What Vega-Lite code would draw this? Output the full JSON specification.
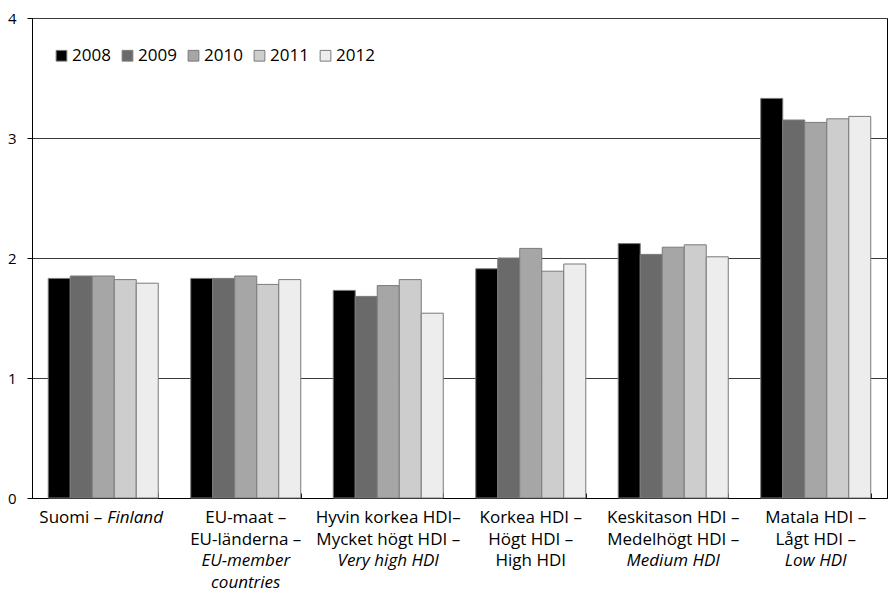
{
  "$schema": "https://vega.github.io/schema/vega-lite/v6.json",
  "autosize": {"type": "none"},
  "width": 855,
  "height": 480,
  "padding": {"left": 32, "top": 18, "right": 1, "bottom": 97},
  "background": "#ffffff",
  "config": {
    "font": "Open Sans",
    "view": {"stroke": "#000000", "strokeWidth": 1},
    "axis": {"labelFont": "Open Sans", "labelColor": "#000000"}
  },
  "datasets": {
    "bars": [
      {"group": "Suomi", "year": "2008", "value": 1.83},
      {"group": "Suomi", "year": "2009", "value": 1.85},
      {"group": "Suomi", "year": "2010", "value": 1.85},
      {"group": "Suomi", "year": "2011", "value": 1.82},
      {"group": "Suomi", "year": "2012", "value": 1.79},
      {"group": "EU", "year": "2008", "value": 1.83},
      {"group": "EU", "year": "2009", "value": 1.83},
      {"group": "EU", "year": "2010", "value": 1.85},
      {"group": "EU", "year": "2011", "value": 1.78},
      {"group": "EU", "year": "2012", "value": 1.82},
      {"group": "VeryHigh", "year": "2008", "value": 1.73},
      {"group": "VeryHigh", "year": "2009", "value": 1.68},
      {"group": "VeryHigh", "year": "2010", "value": 1.77},
      {"group": "VeryHigh", "year": "2011", "value": 1.82},
      {"group": "VeryHigh", "year": "2012", "value": 1.54},
      {"group": "High", "year": "2008", "value": 1.91},
      {"group": "High", "year": "2009", "value": 2.0},
      {"group": "High", "year": "2010", "value": 2.08},
      {"group": "High", "year": "2011", "value": 1.89},
      {"group": "High", "year": "2012", "value": 1.95},
      {"group": "Medium", "year": "2008", "value": 2.12},
      {"group": "Medium", "year": "2009", "value": 2.03},
      {"group": "Medium", "year": "2010", "value": 2.09},
      {"group": "Medium", "year": "2011", "value": 2.11},
      {"group": "Medium", "year": "2012", "value": 2.01},
      {"group": "Low", "year": "2008", "value": 3.33},
      {"group": "Low", "year": "2009", "value": 3.15},
      {"group": "Low", "year": "2010", "value": 3.13},
      {"group": "Low", "year": "2011", "value": 3.16},
      {"group": "Low", "year": "2012", "value": 3.18}
    ],
    "labels": [
      {"group": "Suomi", "line": 0, "text": "Suomi –", "lang": "fi", "part": "head"},
      {"group": "Suomi", "line": 0, "text": "Finland", "lang": "en", "part": "tail"},
      {"group": "EU", "line": 0, "text": "EU-maat –", "lang": "fi", "part": "whole"},
      {"group": "EU", "line": 1, "text": "EU-länderna –", "lang": "sv", "part": "whole"},
      {"group": "EU", "line": 2, "text": "EU-member", "lang": "en", "part": "whole"},
      {"group": "EU", "line": 3, "text": "countries", "lang": "en", "part": "whole"},
      {"group": "VeryHigh", "line": 0, "text": "Hyvin korkea HDI–", "lang": "fi", "part": "whole"},
      {"group": "VeryHigh", "line": 1, "text": "Mycket högt HDI –", "lang": "sv", "part": "whole"},
      {"group": "VeryHigh", "line": 2, "text": "Very high HDI", "lang": "en", "part": "whole"},
      {"group": "High", "line": 0, "text": "Korkea HDI –", "lang": "fi", "part": "whole"},
      {"group": "High", "line": 1, "text": "Högt HDI –", "lang": "sv", "part": "whole"},
      {"group": "High", "line": 2, "text": "High HDI", "lang": "en", "part": "whole"},
      {"group": "Medium", "line": 0, "text": "Keskitason HDI –", "lang": "fi", "part": "whole"},
      {"group": "Medium", "line": 1, "text": "Medelhögt HDI –", "lang": "sv", "part": "whole"},
      {"group": "Medium", "line": 2, "text": "Medium HDI", "lang": "en", "part": "whole"},
      {"group": "Low", "line": 0, "text": "Matala HDI –", "lang": "fi", "part": "whole"},
      {"group": "Low", "line": 1, "text": "Lågt HDI –", "lang": "sv", "part": "whole"},
      {"group": "Low", "line": 2, "text": "Low HDI", "lang": "en", "part": "whole"}
    ]
  },
  "encoding": {
    "x": {
      "field": "group",
      "type": "nominal",
      "scale": {
        "domain": ["Suomi", "EU", "VeryHigh", "High", "Medium", "Low"],
        "paddingInner": 0.228,
        "paddingOuter": 0.114
      },
      "axis": {
        "title": null,
        "labels": false,
        "grid": false,
        "domainColor": "#000000",
        "ticks": true,
        "tickBand": "extent",
        "tickSize": -5,
        "tickColor": "#000000"
      }
    }
  },
  "layer": [
    {
      "data": {"name": "bars"},
      "mark": {"type": "bar", "stroke": "#7a7a7a", "strokeWidth": 1},
      "encoding": {
        "xOffset": {"field": "year", "type": "nominal", "scale": {"paddingInner": 0, "paddingOuter": 0}},
        "y": {
          "field": "value",
          "type": "quantitative",
          "scale": {"domain": [0, 4], "nice": false},
          "axis": {
            "title": null,
            "values": [0, 1, 2, 3, 4],
            "format": "d",
            "labelFontSize": 15,
            "labelPadding": 11,
            "tickSize": 5,
            "tickColor": "#000000",
            "domainColor": "#000000",
            "grid": true,
            "gridColor": "#3c3c3c",
            "gridOpacity": 1
          }
        },
        "color": {
          "field": "year",
          "type": "nominal",
          "scale": {
            "domain": ["2008", "2009", "2010", "2011", "2012"],
            "range": ["#000000", "#6a6a6a", "#a6a6a6", "#cdcdcd", "#ededed"]
          },
          "legend": {
            "title": null,
            "orient": "none",
            "direction": "horizontal",
            "legendX": 21,
            "legendY": 29,
            "padding": 0,
            "symbolType": "square",
            "symbolSize": 115,
            "symbolStrokeColor": "#7a7a7a",
            "symbolStrokeWidth": 1,
            "symbolOpacity": 1,
            "labelFont": "Open Sans",
            "labelFontSize": 17,
            "labelColor": "#000000",
            "labelOffset": 2,
            "columnPadding": 8
          }
        }
      }
    },
    {
      "data": {"name": "labels"},
      "transform": [{"filter": "datum.part == 'whole' && (datum.lang != 'en' || datum.text == 'High HDI')"}],
      "mark": {"type": "text", "font": "Open Sans", "fontSize": 17, "color": "#000000", "baseline": "middle", "align": "center"},
      "encoding": {
        "y": {"field": "line", "type": "ordinal", "scale": {"type": "point", "domain": [0, 1, 2, 3], "range": [500, 565], "padding": 0}, "axis": null},
        "text": {"field": "text"}
      }
    },
    {
      "data": {"name": "labels"},
      "transform": [{"filter": "datum.part == 'whole' && datum.lang == 'en' && datum.text != 'High HDI'"}],
      "mark": {"type": "text", "font": "Open Sans", "fontSize": 17, "fontStyle": "italic", "color": "#000000", "baseline": "middle", "align": "center"},
      "encoding": {
        "y": {"field": "line", "type": "ordinal", "scale": {"type": "point", "domain": [0, 1, 2, 3], "range": [500, 565], "padding": 0}, "axis": null},
        "text": {"field": "text"}
      }
    },
    {
      "data": {"name": "labels"},
      "transform": [{"filter": "datum.part == 'head'"}],
      "mark": {"type": "text", "font": "Open Sans", "fontSize": 17, "color": "#000000", "baseline": "middle", "align": "right", "dx": -1},
      "encoding": {
        "y": {"field": "line", "type": "ordinal", "scale": {"type": "point", "domain": [0, 1, 2, 3], "range": [500, 565], "padding": 0}, "axis": null},
        "text": {"field": "text"}
      }
    },
    {
      "data": {"name": "labels"},
      "transform": [{"filter": "datum.part == 'tail'"}],
      "mark": {"type": "text", "font": "Open Sans", "fontSize": 17, "fontStyle": "italic", "color": "#000000", "baseline": "middle", "align": "left", "dx": 4},
      "encoding": {
        "y": {"field": "line", "type": "ordinal", "scale": {"type": "point", "domain": [0, 1, 2, 3], "range": [500, 565], "padding": 0}, "axis": null},
        "text": {"field": "text"}
      }
    }
  ],
  "resolve": {"scale": {"y": "independent"}}
}
